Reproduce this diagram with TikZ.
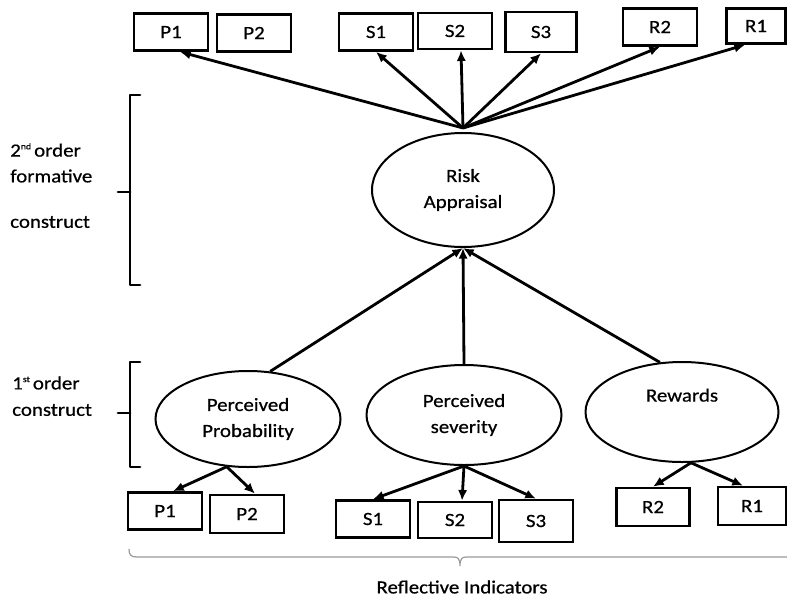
\documentclass[tikz,border=0pt]{standalone}
\usepackage{fontspec}
\setmainfont{Carlito}[FakeStretch=1.12,FakeBold=0.6]
\usetikzlibrary{shapes.geometric,arrows.meta,calc}

% small raised ordinal suffix
\newcommand{\ordsup}[1]{\raisebox{5.5pt}{\fontsize{6.5}{6.5}\selectfont #1}}

\tikzset{
  every node/.style={font=\fontsize{14}{19.5}\selectfont},
  ind/.style={draw, line width=2pt, inner sep=0pt,
    minimum width={74*0.75pt}, minimum height={37*0.75pt}},
  latent/.style={draw, ellipse, line width=1.5pt, inner sep=0pt, align=center},
  link/.style={line width=2.1pt, -{Latex[length=8pt,width=7pt]}},
  bracket/.style={line width=2.2pt, line cap=round, line join=round},
  lbl/.style={anchor=west, inner sep=0pt}
}

\begin{document}
\begin{tikzpicture}[x=0.75pt,y=-0.75pt]
\useasboundingbox (0,0) rectangle (787,600);

% second-order construct and its indicators
\node[latent, minimum width={182*0.75pt}, minimum height={114*0.75pt}] (ra) at (463,190) {Risk\\Appraisal};

\node[ind] (p1t) at (171,32) {P1};
\node[ind] (p2t) at (254,33) {P2};
\node[ind] (s1t) at (376,32) {S1};
\node[ind, minimum height={36*0.75pt}] (s2t) at (455,31) {S2};
\node[ind, minimum width={71*0.75pt}, minimum height={40*0.75pt}] (s3t) at (541,32) {S3};
\node[ind] (r2t) at (660,27) {R2};
\node[ind, minimum width={59*0.75pt}, minimum height={35*0.75pt}] (r1t) at (756,26) {R1};

\coordinate (hub) at ($(ra.north)+(0,-4)$);
\draw[link] (hub) -- ($(p1t.south)+(9,0)$);
\draw[link] (hub) -- (s1t.south);
\draw[link] (hub) -- ($(s2t.south)+(6,0)$);
\draw[link] (hub) -- (s3t.south);
\draw[link] (hub) -- (r2t.south);
\draw[link] (hub) -- ($(r1t.south)+(-11,0)$);

% first-order constructs
\node[latent, minimum width={185*0.75pt}, minimum height={96*0.75pt}] (pp) at (248,419) {Perceived\\Probability};
\node[latent, minimum width={195*0.75pt}, minimum height={100*0.75pt}] (ps) at (464,415) {Perceived\\severity};
\node[latent, minimum width={193*0.75pt}, minimum height={100*0.75pt}] (rw) at (682,412) {Rewards\\\strut};

\draw[link] (pp.65) -- (ra.south);
\draw[link] (ps.north) -- (ra.south);
\draw[link] (rw.114) -- (ra.south);

% reflective indicators
\node[ind] (p1b) at (165,511) {P1};
\node[ind, minimum height={38*0.75pt}] (p2b) at (247,514) {P2};
\node[ind] (s1b) at (373,519) {S1};
\node[ind, minimum height={36*0.75pt}] (s2b) at (455,520) {S2};
\node[ind, minimum height={42*0.75pt}] (s3b) at (536,521) {S3};
\node[ind, minimum width={73*0.75pt}, minimum height={38*0.75pt}] (r2b) at (653,507) {R2};
\node[ind, minimum width={68*0.75pt}, minimum height={38*0.75pt}] (r1b) at (752,506) {R1};

\draw[link] (pp.246) -- ($(p1b.north)+(8,0)$);
\draw[link] (pp.246) -- ($(p2b.north)+(8,0)$);
\draw[link] (ps.south) -- (s1b.north);
\draw[link] (ps.south) -- ($(s2b.north)+(7,0)$);
\draw[link] (ps.south) -- (s3b.north);
\draw[link] (rw.280) -- (r2b.north);
\draw[link] (rw.280) -- ($(r1b.north)+(-9,0)$);

% level brackets and their labels
\draw[bracket] (140,95) -- (130,95) -- (130,285) -- (140,285);
\draw[bracket] (130,192) -- (118,192);
\draw[bracket] (140,362) -- (130,362) -- (130,467) -- (140,467);
\draw[bracket] (130,413) -- (118,413);

\node[lbl] (l2a) at (10,150) {2\ordsup{nd}\,order};
\node[lbl] (l2b) at (10,176) {formative};
\node[lbl] (l2c) at (10,222) {construct};
\node[lbl] (l1a) at (12,383) {1\ordsup{st}\,order};
\node[lbl] (l1b) at (12,410) {construct};

% brace under the indicators
\draw[gray!80, line width=0.9pt] (129,549) .. controls (129,555) and (131,557) .. (137,557)
  -- (454,557) .. controls (458,557) and (460,559) .. (460,566)
  .. controls (460,559) and (462,557) .. (466,557) -- (787,557);
\node (ri) at (462,587) {Reflective Indicators};
\end{tikzpicture}
\end{document}
